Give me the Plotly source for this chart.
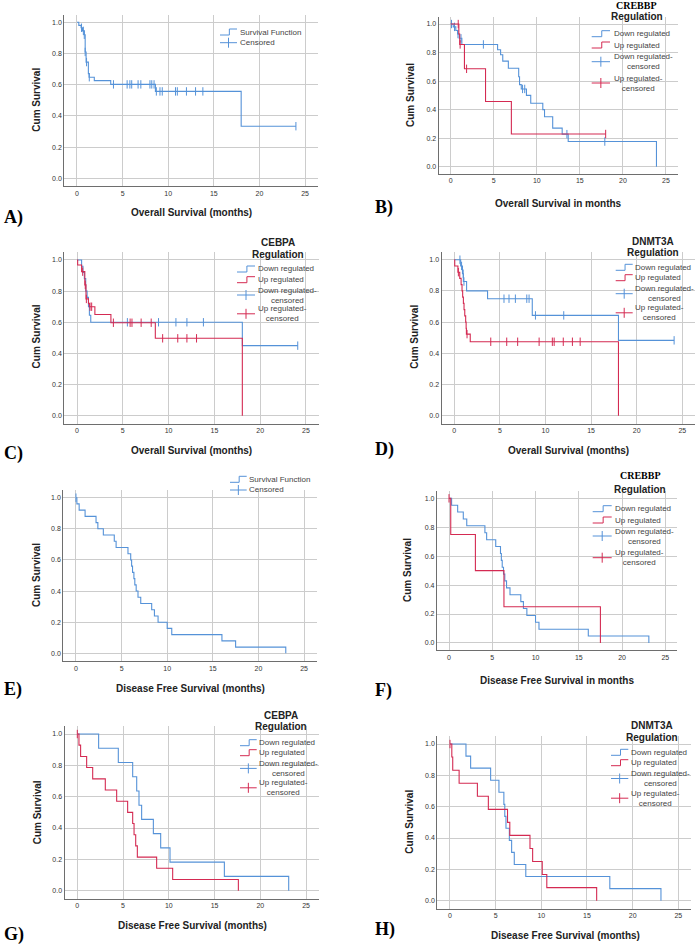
import plotly.graph_objects as go

W, H = 697, 944
BLUE = "#5592d8"
RED = "#d42a52"
GRID = "#cccccc"
AXIS = "#6e6e6e"
TXT = "#222222"
SANS = "Liberation Sans, Arial, sans-serif"
SERIF = "Liberation Serif, Times New Roman, serif"

X_TICKS = [0, 5, 10, 15, 20, 25]
Y_TICKS = [0.0, 0.2, 0.4, 0.6, 0.8, 1.0]

# ---- A) overall survival, all patients
A_time = [0.2, 0.45, 0.6, 0.8, 0.9, 1.0, 1.25, 1.33, 1.9, 3.7, 8.6, 18.0]
A_surv = [0.98, 0.965, 0.945, 0.92, 0.81, 0.745, 0.67, 0.648, 0.626, 0.602, 0.557, 0.334]
A_cens = [0.5, 0.7, 0.8, 0.9, 1.05, 1.35, 4.0, 5.5, 5.8, 6.0, 6.7, 7.0, 8.0, 8.2, 8.45,
          8.7, 9.1, 9.35, 10.8, 11.0, 12.0, 13.0, 13.8, 24.0]

# ---- B) overall survival by CREBBP
B_dn_time = [0.3, 0.6, 0.8, 1.0, 1.3, 5.45, 5.8, 6.05, 6.7, 7.9, 8.0, 8.2, 8.8, 9.3,
             10.7, 10.9, 11.85, 12.95, 13.65, 23.9]
B_dn_surv = [0.98, 0.955, 0.93, 0.90, 0.857, 0.82, 0.785, 0.74, 0.69, 0.63, 0.575, 0.545,
             0.50, 0.445, 0.40, 0.35, 0.27, 0.228, 0.176, 0.0]
B_dn_cens = [0.1, 0.45, 0.85, 1.2, 3.8, 8.35, 8.6, 13.5, 17.9]
B_up_time = [0.95, 1.05, 1.6, 4.05, 7.05]
B_up_surv = [0.93, 0.857, 0.686, 0.457, 0.229]
B_up_cens = [0.88, 1.1, 1.85, 18.0]

# ---- C) overall survival by CEBPA
C_dn_time = [0.5, 0.65, 0.8, 0.95, 1.1, 1.25, 1.35, 1.5, 18.05]
C_dn_surv = [0.96, 0.92, 0.88, 0.80, 0.76, 0.70, 0.645, 0.60, 0.45]
C_dn_cens = [5.5, 8.9, 10.8, 12.0, 13.8, 24.1]
C_up_time = [0.07, 0.5, 0.85, 0.98, 1.25, 1.35, 1.95, 3.7, 8.55, 18.05]
C_up_surv = [0.968, 0.925, 0.84, 0.75, 0.72, 0.70, 0.65, 0.597, 0.497, 0.0]
C_up_cens = [0.62, 0.9, 1.02, 1.42, 1.6, 3.97, 5.8, 6.0, 7.0, 8.1, 9.35, 11.0, 12.0, 13.05]

# ---- D) overall survival by DNMT3A
D_dn_time = [0.7, 0.9, 1.0, 1.35, 3.65, 8.55, 18.0]
D_dn_surv = [0.96, 0.91, 0.86, 0.80, 0.75, 0.643, 0.483]
D_dn_cens = [0.62, 0.8, 0.98, 1.06, 5.45, 6.0, 6.7, 7.95, 8.2, 8.9, 12.0, 24.1]
D_up_time = [0.05, 0.4, 0.6, 0.75, 0.85, 0.92, 1.0, 1.07, 1.15, 1.25, 1.3, 1.33, 1.75, 18.0]
D_up_surv = [0.96, 0.92, 0.88, 0.84, 0.80, 0.76, 0.72, 0.68, 0.64, 0.60, 0.56, 0.523, 0.474, 0.0]
D_up_cens = [0.45, 1.4, 4.0, 5.75, 6.95, 9.3, 10.75, 10.95, 11.95, 12.95, 13.8]

# ---- E) disease free survival, all patients
E_time = [0.1, 0.35, 1.0, 2.2, 2.4, 3.0, 4.2, 4.4, 5.7, 6.0, 6.1, 6.2, 6.35, 6.45, 6.6,
          6.8, 7.1, 8.3, 8.6, 9.0, 10.0, 10.5, 16.0, 17.5, 23.0]
E_surv = [0.96, 0.92, 0.88, 0.84, 0.80, 0.76, 0.72, 0.68, 0.64, 0.60, 0.56, 0.52, 0.48,
          0.44, 0.40, 0.36, 0.32, 0.28, 0.24, 0.20, 0.16, 0.12, 0.08, 0.04, 0.0]
E_cens = [0.0]

# ---- F) disease free survival by CREBBP
F_dn_time = [0.3, 1.0, 1.65, 2.05, 4.15, 4.35, 5.4, 5.95, 6.05, 6.15, 6.3, 6.45, 6.65,
             7.05, 8.3, 8.6, 9.0, 10.0, 10.4, 16.1, 23.1]
F_dn_surv = [0.952, 0.905, 0.857, 0.81, 0.762, 0.714, 0.667, 0.619, 0.571, 0.524, 0.476,
             0.429, 0.381, 0.333, 0.286, 0.238, 0.19, 0.143, 0.095, 0.048, 0.0]
F_dn_cens = []
F_up_time = [0.2, 3.05, 6.35, 17.5]
F_up_surv = [0.75, 0.5, 0.25, 0.0]
F_up_cens = [0.0]

# ---- G) disease free survival by CEBPA
G_dn_time = [2.33, 4.48, 6.05, 6.49, 6.74, 7.03, 8.31, 9.11, 10.13, 16.07, 23.1]
G_dn_surv = [0.909, 0.818, 0.727, 0.636, 0.545, 0.455, 0.364, 0.273, 0.182, 0.091, 0.0]
G_dn_cens = []
G_up_time = [0.18, 0.36, 1.02, 1.68, 3.06, 4.3, 5.5, 6.05, 6.2, 6.38, 6.56, 8.67, 10.42, 17.6]
G_up_surv = [0.929, 0.857, 0.786, 0.714, 0.643, 0.571, 0.5, 0.429, 0.357, 0.286, 0.214,
             0.143, 0.071, 0.0]
G_up_cens = [0.0]

# ---- H) disease free survival by DNMT3A
H_dn_time = [1.75, 2.26, 4.45, 5.36, 5.9, 6.0, 6.13, 6.5, 6.75, 7.04, 8.3, 17.5, 23.1]
H_dn_surv = [0.923, 0.846, 0.769, 0.692, 0.615, 0.538, 0.462, 0.385, 0.308, 0.231, 0.154,
             0.077, 0.0]
H_dn_cens = []
H_up_time = [0.2, 0.3, 1.0, 3.0, 4.2, 6.3, 6.55, 8.76, 9.05, 10.1, 10.6, 16.06]
H_up_surv = [0.917, 0.833, 0.75, 0.667, 0.583, 0.5, 0.417, 0.333, 0.25, 0.167, 0.083, 0.0]
H_up_cens = [0.0]


def px(x):
    return x / W


def py(y):
    return 1 - y / H


def step_xy(times, surv, cens):
    xs = [0.0] + list(times)
    ys = [1.0] + list(surv)
    end = max([0.0] + list(cens))
    if end > xs[-1]:
        xs.append(end)
        ys.append(ys[-1])
    return xs, ys


def surv_at(t, times, surv):
    s = 1.0
    for ti, si in zip(times, surv):
        if ti <= t:
            s = si
    return s


# panel layout in pixels: plot box (left, top, right, bottom), titles, label, legend
panels = [
    dict(label="A)", lab=(2, 217), box=(64.2, 14.5, 317.8, 186.1),
         xtitle="Overall Survival (months)", xt=(191.7, 212.7), yt=(36.7, 100),
         groups=[(A_time, A_surv, A_cens, BLUE)],
         legend=dict(kind="single", icon=(220, 237), text=238, rows=[32, 42.7])),
    dict(label="B)", lab=(373, 208), box=(438.6, 16.9, 678.0, 173.8),
         xtitle="Overall Survival in months", xt=(558, 203.3), yt=(410, 95),
         groups=[(B_dn_time, B_dn_surv, B_dn_cens, BLUE), (B_up_time, B_up_surv, B_up_cens, RED)],
         legend=dict(kind="group", gene="CREBBP", serif=True, tc=636.7, ty=(5, 16.7),
                     icon=(591.7, 610), text=611.7, rows=[33.7, 45, 61.7, 83])),
    dict(label="C)", lab=(2, 453), box=(64.2, 252.2, 318.8, 423.5),
         xtitle="Overall Survival (months)", xt=(191.7, 450.7), yt=(36.7, 336.7),
         groups=[(C_dn_time, C_dn_surv, C_dn_cens, BLUE), (C_up_time, C_up_surv, C_up_cens, RED)],
         legend=dict(kind="group", gene="CEBPA", serif=False, tc=278, ty=(242.5, 254),
                     icon=(237, 255), text=256, rows=[269, 279.7, 295, 313.8])),
    dict(label="D)", lab=(373, 450), box=(441.5, 251.9, 695.1, 423.5),
         xtitle="Overall Survival (months)", xt=(568, 450.3), yt=(415, 336.7),
         groups=[(D_dn_time, D_dn_surv, D_dn_cens, BLUE), (D_up_time, D_up_surv, D_up_cens, RED)],
         legend=dict(kind="group", gene="DNMT3A", serif=False, tc=653, ty=(241, 252.5),
                     icon=(615.7, 632.7), text=633.3, rows=[267.3, 277.7, 293.7, 312.8])),
    dict(label="E)", lab=(2, 689), box=(63.2, 489.9, 316.8, 661.1),
         xtitle="Disease Free Survival (months)", xt=(190, 688.3), yt=(36, 575),
         groups=[(E_time, E_surv, E_cens, BLUE)],
         legend=dict(kind="single", icon=(230, 246.7), text=247.3, rows=[479.3, 490])),
    dict(label="F)", lab=(373, 690), box=(436.9, 491.1, 677.4, 650.2),
         xtitle="Disease Free Survival in months", xt=(557, 680), yt=(407, 570),
         groups=[(F_dn_time, F_dn_surv, F_dn_cens, BLUE), (F_up_time, F_up_surv, F_up_cens, RED)],
         legend=dict(kind="group", gene="CREBBP", serif=True, tc=640, ty=(475, 489.3),
                     icon=(592.7, 611.7), text=612.7, rows=[508.7, 520, 536, 557.7])),
    dict(label="G)", lab=(2, 934), box=(64.5, 726.2, 318.9, 898.5),
         xtitle="Disease Free Survival (months)", xt=(192, 925.7), yt=(37.3, 812),
         groups=[(G_dn_time, G_dn_surv, G_dn_cens, BLUE), (G_up_time, G_up_surv, G_up_cens, RED)],
         legend=dict(kind="group", gene="CEBPA", serif=False, tc=280.7, ty=(715, 726.5),
                     icon=(240, 256.7), text=257.3, rows=[742.7, 752.7, 768.4, 787.8])),
    dict(label="H)", lab=(373, 929), box=(437.2, 736.2, 691.1, 908.5),
         xtitle="Disease Free Survival (months)", xt=(565, 935.3), yt=(410, 821.7),
         groups=[(H_dn_time, H_dn_surv, H_dn_cens, BLUE), (H_up_time, H_up_surv, H_up_cens, RED)],
         legend=dict(kind="group", gene="DNMT3A", serif=False, tc=651.7, ty=(725.5, 737),
                     icon=(611, 628.3), text=629.3, rows=[752.3, 762.7, 778.5, 798.2])),
]

fig = go.Figure()
annotations = []
shapes = []
layout = {}


def note(text, x, y, size, bold=True, font=SANS, xanchor="center", color=TXT):
    if bold:
        text = "<b>" + text + "</b>"
    annotations.append(dict(text=text, x=px(x), y=py(y), xref="paper", yref="paper",
                            xanchor=xanchor, yanchor="middle", showarrow=False,
                            font=dict(family=font, size=size, color=color)))


def seg(x0, y0, x1, y1, color):
    shapes.append(dict(type="line", xref="paper", yref="paper", x0=px(x0), y0=py(y0),
                       x1=px(x1), y1=py(y1), line=dict(color=color, width=1)))


def step_icon(x0, x1, y, color):
    xm = x0 + (x1 - x0) * 0.55
    seg(x0, y + 3, xm, y + 3, color)
    seg(xm, y + 3, xm, y - 3, color)
    seg(xm, y - 3, x1, y - 3, color)


def cens_icon(x0, x1, y, color):
    seg(x0, y, x1, y, color)
    xm = (x0 + x1) / 2
    seg(xm, y - 5, xm, y + 5, color)


for i, p in enumerate(panels):
    n = "" if i == 0 else str(i + 1)
    l, t, r, b = p["box"]
    layout["xaxis" + n] = dict(
        domain=[px(l), px(r)], anchor="y" + n, range=[-1.4, 26.4], tickvals=X_TICKS,
        showgrid=True, gridcolor=GRID, gridwidth=1, zeroline=False,
        showline=True, linecolor=AXIS, linewidth=1, ticks="",
        tickfont=dict(family=SANS, size=7, color="#333333"), fixedrange=True)
    layout["yaxis" + n] = dict(
        domain=[py(b), py(t)], anchor="x" + n, range=[-0.05, 1.05], tickvals=Y_TICKS,
        tickformat=".1f", showgrid=True, gridcolor=GRID, gridwidth=1, zeroline=False,
        showline=True, linecolor=AXIS, linewidth=1, ticks="",
        tickfont=dict(family=SANS, size=7, color="#333333"), fixedrange=True)

    for times, surv, cens, color in p["groups"]:
        xs, ys = step_xy(times, surv, cens)
        fig.add_trace(go.Scatter(x=xs, y=ys, mode="lines", line=dict(color=color, width=1.1, shape="hv"),
                                 xaxis="x" + n, yaxis="y" + n, showlegend=False, hoverinfo="skip"))
        if cens:
            fig.add_trace(go.Scatter(
                x=cens, y=[surv_at(c, times, surv) for c in cens], mode="markers",
                marker=dict(symbol="line-ns-open", size=6, color=color, line=dict(color=color, width=1)),
                xaxis="x" + n, yaxis="y" + n, showlegend=False, hoverinfo="skip"))

    note(p["label"], p["lab"][0], p["lab"][1], 18, font=SERIF, xanchor="left", color="#000000")
    note(p["xtitle"], p["xt"][0], p["xt"][1], 10)
    annotations.append(dict(text="<b>Cum Survival</b>", x=px(p["yt"][0]), y=py(p["yt"][1]),
                            xref="paper", yref="paper", textangle=-90, showarrow=False,
                            xanchor="center", yanchor="middle",
                            font=dict(family=SANS, size=10, color=TXT)))

    lg = p["legend"]
    ix0, ix1 = lg["icon"]
    rows = lg["rows"]
    if lg["kind"] == "single":
        step_icon(ix0, ix1, rows[0], BLUE)
        cens_icon(ix0, ix1, rows[1], BLUE)
        note("Survival Function", lg["text"], rows[0], 8, bold=False, xanchor="left", color="#444444")
        note("Censored", lg["text"], rows[1], 8, bold=False, xanchor="left", color="#444444")
    else:
        if lg["serif"]:
            note(lg["gene"], lg["tc"], lg["ty"][0], 10, font=SERIF, color="#000000")
        else:
            note(lg["gene"], lg["tc"], lg["ty"][0], 10)
        note("Regulation", lg["tc"], lg["ty"][1], 10)
        step_icon(ix0, ix1, rows[0], BLUE)
        step_icon(ix0, ix1, rows[1], RED)
        cens_icon(ix0, ix1, rows[2], BLUE)
        cens_icon(ix0, ix1, rows[3], RED)
        labels = ["Down regulated", "Up regulated", "Down regulated-<br>censored",
                  "Up regulated-<br>censored"]
        for lab, yy in zip(labels, rows):
            note(lab, lg["text"], yy, 8, bold=False, xanchor="left", color="#444444")

fig.update_layout(
    width=W, height=H, margin=dict(l=0, r=0, t=0, b=0),
    paper_bgcolor="white", plot_bgcolor="white",
    annotations=annotations, shapes=shapes, showlegend=False, **layout)

fig.write_html("out.html", config={"displayModeBar": False},
               post_script="document.body.style.margin='0';")
